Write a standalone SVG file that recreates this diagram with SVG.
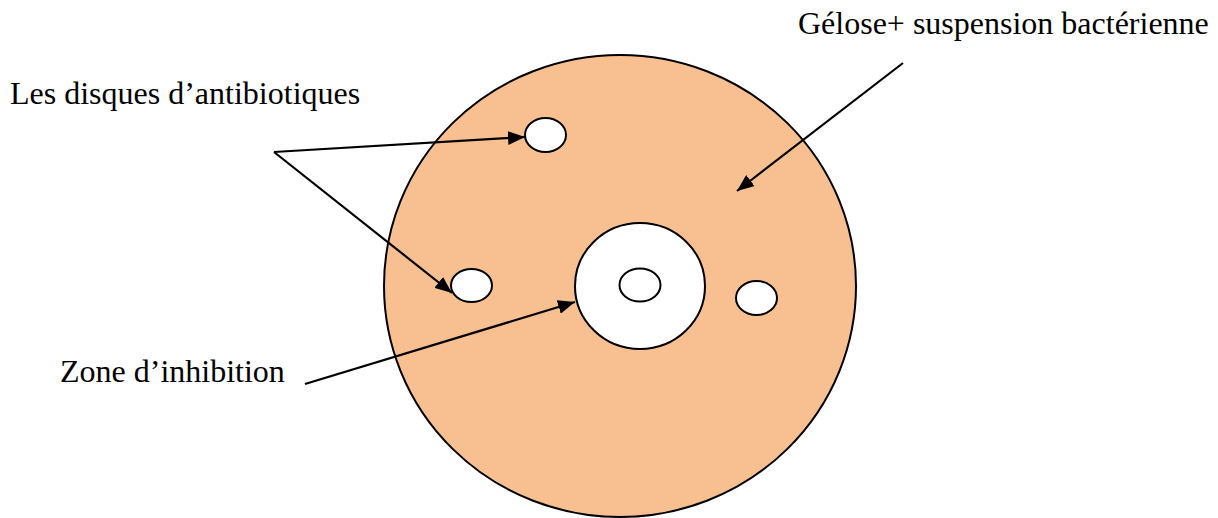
<svg xmlns="http://www.w3.org/2000/svg" width="1218" height="518" viewBox="0 0 1218 518">
<style>
.lbl{font-family:"Liberation Serif","Times New Roman",serif;font-size:32px;fill:#000}
.plate{fill:#F8C091;stroke:#000;stroke-width:2}
.disc{fill:#fff;stroke:#000;stroke-width:2}
.con{stroke:#000;stroke-width:2.2;fill:none;marker-end:url(#ah)}
</style>
<defs>
<marker id="ah" markerUnits="userSpaceOnUse" markerWidth="18" markerHeight="14" refX="17" refY="7" orient="auto">
<path d="M0,0 L17,7 L0,14 Z" fill="#000"/>
</marker>
</defs>
<rect width="1218" height="518" fill="#fff"/>
<g id="plate"><ellipse class="plate" cx="620" cy="286" rx="236" ry="231"/></g>
<g id="zone"><ellipse class="disc" cx="640" cy="286" rx="65" ry="63"/></g>
<g id="disc-center"><ellipse class="disc" cx="640" cy="285" rx="20.5" ry="16.5"/></g>
<g id="disc-top"><ellipse class="disc" cx="545.5" cy="135" rx="20.5" ry="17"/></g>
<g id="disc-left"><ellipse class="disc" cx="471.5" cy="285.5" rx="20.5" ry="16.5"/></g>
<g id="disc-right"><ellipse class="disc" cx="756.5" cy="298" rx="20.5" ry="17"/></g>
<g id="label-disques"><text class="lbl" x="10" y="104">Les disques d’antibiotiques</text></g>
<g id="label-gelose"><text class="lbl" x="798" y="34">Gélose+ suspension bactérienne</text></g>
<g id="label-zone"><text class="lbl" x="60" y="382">Zone d’inhibition</text></g>
<g id="connectors">
<line class="con" x1="274" y1="152" x2="525" y2="137"/>
<line class="con" x1="274" y1="152" x2="452" y2="293"/>
<line class="con" x1="903" y1="63" x2="737" y2="191"/>
<line class="con" x1="305" y1="384" x2="575" y2="302"/>
</g>
</svg>
